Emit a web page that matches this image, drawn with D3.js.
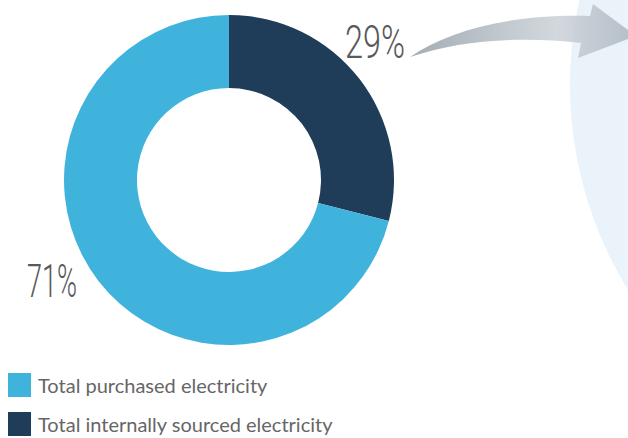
<!DOCTYPE html>
<html>
<head>
<meta charset="utf-8">
<script src="https://cdn.jsdelivr.net/npm/d3@7"></script>
<style>
  html, body { margin: 0; padding: 0; background: #fff; }
  svg { display: block; }
</style>
</head>
<body>
<div id="chart"></div>
<script>
// data
const categories = ["Total internally sourced electricity", "Total purchased electricity"];
const shares = [29, 71];
const colors = ["#1f3c58", "#40b3dc"];
const legendOrder = ["Total purchased electricity", "Total internally sourced electricity"];

const W = 628, H = 438;
const svg = d3.select("#chart").append("svg")
  .attr("width", W)
  .attr("height", H);

// gradient for the arrow
const defs = svg.append("defs");
const grad = defs.append("linearGradient")
  .attr("id", "arrowGrad")
  .attr("x1", "0%").attr("x2", "100%")
  .attr("y1", "0%").attr("y2", "0%");
grad.append("stop").attr("offset", "0%").attr("stop-color", "#9aa3ac");
grad.append("stop").attr("offset", "65%").attr("stop-color", "#cdd4da");
grad.append("stop").attr("offset", "100%").attr("stop-color", "#aeb8c1");

// big pale circle on the right
svg.append("circle")
  .attr("cx", 961)
  .attr("cy", 85)
  .attr("r", 391)
  .attr("fill", "#eaf3f9");

// curved arrow
svg.append("path")
  .attr("d", "M410,57 C450,30 510,14 590,16 L593,4 L636,36 L578,58 L581,43 C520,36 460,40 410,57 Z")
  .attr("fill", "url(#arrowGrad)")
  .attr("opacity", 0.9);

// donut
const cx = 229, cy = 180;
const pie = d3.pie().sort(null).value(d => d)(shares);
const arc = d3.arc().innerRadius(92).outerRadius(165);

const g = svg.append("g").attr("transform", `translate(${cx},${cy})`);
g.selectAll("path.slice")
  .data(pie)
  .enter()
  .append("path")
  .attr("class", "slice")
  .attr("d", arc)
  .attr("fill", (d, i) => colors[i]);

// percentage labels (thin condensed look)
const labelPos = [[345, 58], [27, 297]];
const labelWidth = [60, 50];
svg.selectAll("text.pct")
  .data(shares)
  .enter()
  .append("text")
  .attr("class", "pct")
  .attr("x", (d, i) => labelPos[i][0])
  .attr("y", (d, i) => labelPos[i][1])
  .attr("textLength", (d, i) => labelWidth[i])
  .attr("lengthAdjust", "spacingAndGlyphs")
  .style("font-family", "Roboto, sans-serif")
  .style("font-weight", 300)
  .style("font-size", "46px")
  .style("fill", "#58595b")
  .text(d => d + "%");

// legend
const legendColor = d3.scaleOrdinal().domain(categories).range(colors);
const leg = svg.selectAll("g.legend-item")
  .data(legendOrder)
  .enter()
  .append("g")
  .attr("class", "legend-item")
  .attr("transform", (d, i) => `translate(8, ${373 + i * 39})`);

leg.append("rect")
  .attr("width", 23)
  .attr("height", 24)
  .attr("fill", d => legendColor(d));

leg.append("text")
  .attr("x", 30)
  .attr("y", 20)
  .style("font-family", "Lato, sans-serif")
  .style("font-size", "20px")
  .style("fill", "#666")
  .text(d => d);
</script>
</body>
</html>
